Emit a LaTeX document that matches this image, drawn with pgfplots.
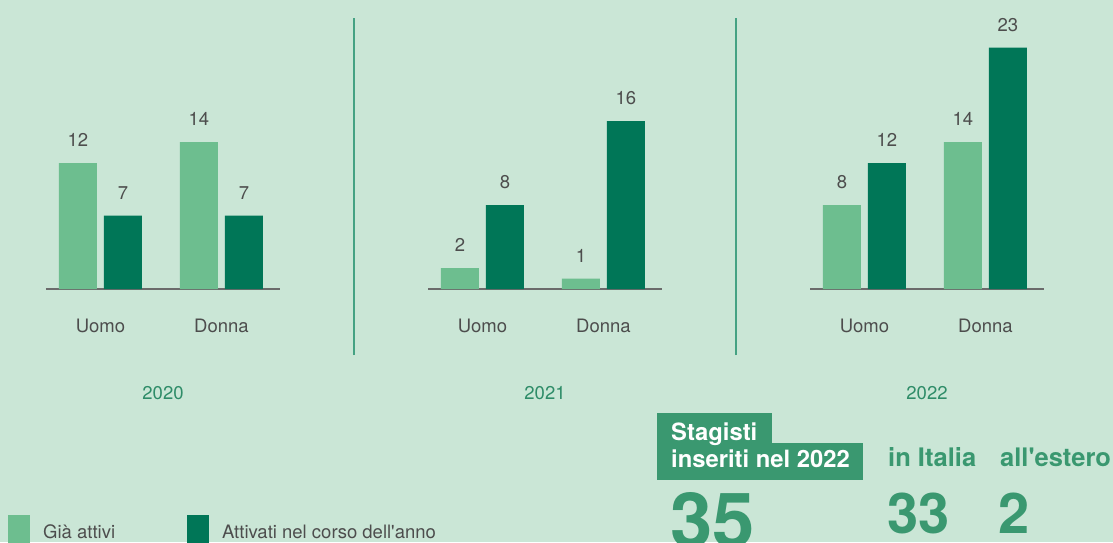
\documentclass[border=0pt]{standalone}
\usepackage{pgfplots}
\pgfplotsset{compat=1.18}
\usepackage{fontspec}
\setmainfont{TeX Gyre Heros}
\definecolor{bgc}{HTML}{CAE6D6}
\definecolor{light}{HTML}{6DBE8F}
\definecolor{dark}{HTML}{007657}
\definecolor{sepc}{HTML}{45A283}
\definecolor{txt}{HTML}{4D4D4D}
\definecolor{grn}{HTML}{3A9870}
\definecolor{yr}{HTML}{2E8C68}
\definecolor{axl}{HTML}{6B6B6B}
\newcommand\fs{\fontsize{18.5}{22}\selectfont}
\pgfplotsset{
  sq/.style={legend image code/.code={\path (0pt,0pt) rectangle (22pt,17pt);\fill[##1,draw=none,overlay] (0pt,-11pt) rectangle (22pt,11pt);}},
  panel/.style={
    scale only axis, width=234pt, height=262.5pt, anchor=south west,
    ymin=0, ymax=25, xmin=-0.45, xmax=1.484,
    axis y line=none, axis x line=bottom,
    axis line style={-, draw=axl, line width=1.5pt},
    xtick={0,1}, xticklabels={Uomo,Donna}, major tick length=0pt,
    xticklabel style={anchor=center, yshift=-37pt, font=\fs, text=txt},
    clip=false,
    /pgf/number format/assume math mode=true,
    nodes near coords,
    nodes near coords style={anchor=south, inner sep=0pt, yshift=16pt, font=\fs, text=txt},
  },
  lb/.style={ybar, bar width=38pt, bar shift=-22.5pt, fill=light, draw=none, sq,
    nodes near coords style={xshift=-22.5pt}},
  db/.style={ybar, bar width=38pt, bar shift=22.5pt, fill=dark, draw=none, sq,
    nodes near coords style={xshift=22.5pt}},
}
\begin{document}
\begin{tikzpicture}[x=1pt,y=1pt]
\useasboundingbox (0,0) rectangle (1113,542);
\fill[bgc] (0,0) rectangle (1113,542);
\clip (0,0) rectangle (1113,542);

\begin{axis}[panel, at={(46pt,253pt)},
  legend columns=2,
  legend style={at={(axis description cs:-0.1624,-0.9638)}, anchor=south west,
    draw=none, fill=none, inner sep=0pt, font=\fs, text=txt,
    /tikz/every odd column/.append style={column sep=11pt},
    /tikz/every even column/.append style={column sep=70pt}},
  legend cell align=left]
\addplot[lb] coordinates {(0,12) (1,14)};
\addlegendentry{Già attivi}
\addplot[db] coordinates {(0,7) (1,7)};
\addlegendentry{Attivati nel corso dell\textquotesingle anno}
\node[text=yr, font=\fs] at (rel axis cs:0.5,0) [yshift=-104pt] {2020};
\end{axis}

\begin{axis}[panel, at={(428pt,253pt)}]
\addplot[lb] coordinates {(0,2) (1,1)};
\addplot[db] coordinates {(0,8) (1,16)};
\node[text=yr, font=\fs] at (rel axis cs:0.5,0) [yshift=-104pt] {2021};
\end{axis}

\begin{axis}[panel, at={(810pt,253pt)}]
\addplot[lb] coordinates {(0,8) (1,14)};
\addplot[db] coordinates {(0,12) (1,23)};
\node[text=yr, font=\fs] at (rel axis cs:0.5,0) [yshift=-104pt] {2022};
\end{axis}

\draw[sepc, line width=2pt] (354,187) -- (354,524);
\draw[sepc, line width=2pt] (736,187) -- (736,524);

\fill[grn] (657,99) rectangle (772,129);
\fill[grn] (657,62) rectangle (863,99);
\node[anchor=base west, inner sep=0pt, text=white, font=\fontsize{23.8}{26}\selectfont\bfseries] at (671,102) {Stagisti};
\node[anchor=base west, inner sep=0pt, text=white, font=\fontsize{23.8}{26}\selectfont\bfseries] at (671,75) {inseriti nel 2022};
\node[anchor=base west, inner sep=0pt, text=grn, font=\fontsize{25.5}{28}\selectfont\bfseries] at (888,76) {in Italia};
\node[anchor=base west, inner sep=0pt, text=grn, font=\fontsize{25.5}{28}\selectfont\bfseries] at (1000,76) {all\textquotesingle estero};
\node[anchor=base west, inner sep=0pt, text=grn, font=\fontsize{76}{80}\selectfont\bfseries] at (670,-5) {35};
\node[anchor=base west, inner sep=0pt, text=grn, font=\fontsize{56}{60}\selectfont\bfseries] at (887,9) {33};
\node[anchor=base west, inner sep=0pt, text=grn, font=\fontsize{56}{60}\selectfont\bfseries] at (998,9) {2};
\end{tikzpicture}
\end{document}
